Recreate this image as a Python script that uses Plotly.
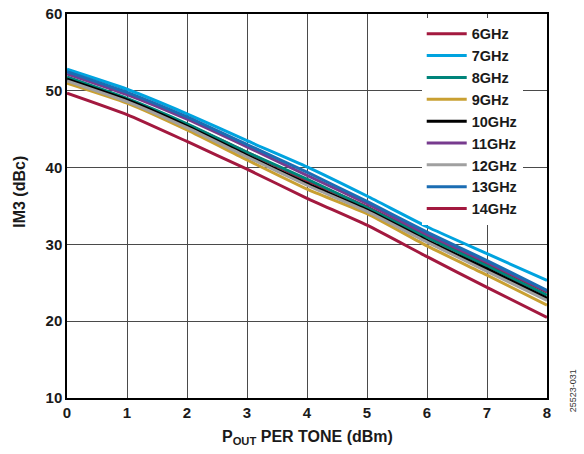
import plotly.graph_objects as go

pout = [0, 1, 2, 3, 4, 5, 6, 7, 8]

im3_6ghz = [51.4, 48.8, 45.6, 42.0, 38.3, 34.9, 31.0, 27.5, 23.8]
im3_7ghz = [52.8, 50.2, 47.0, 43.5, 40.1, 36.3, 32.3, 28.8, 25.3]
im3_8ghz = [51.8, 49.0, 45.7, 42.0, 38.5, 34.8, 30.9, 27.2, 23.4]
im3_9ghz = [51.0, 48.4, 44.9, 41.0, 37.2, 34.0, 29.8, 26.0, 22.1]
im3_10ghz = [51.5, 48.8, 45.4, 41.6, 37.9, 34.5, 30.5, 26.8, 23.0]
im3_11ghz = [52.2, 49.5, 46.3, 42.7, 39.0, 35.3, 31.3, 27.7, 23.9]
im3_12ghz = [51.3, 48.6, 45.2, 41.4, 37.7, 34.3, 30.3, 26.5, 22.7]
im3_13ghz = [52.5, 49.8, 46.6, 43.0, 39.4, 35.6, 31.6, 27.9, 24.0]
im3_14ghz = [49.7, 46.9, 43.4, 39.8, 36.0, 32.5, 28.4, 24.4, 20.5]

names = ["6GHz", "7GHz", "8GHz", "9GHz", "10GHz", "11GHz", "12GHz", "13GHz", "14GHz"]
series = [im3_6ghz, im3_7ghz, im3_8ghz, im3_9ghz, im3_10ghz, im3_11ghz, im3_12ghz, im3_13ghz, im3_14ghz]
colors = ["#A3193F", "#00A3DF", "#00847A", "#C9A032", "#000000", "#773B8E", "#A0A0A0", "#1B6DB3", "#A3193F"]

x_ticks = [0, 1, 2, 3, 4, 5, 6, 7, 8]
y_ticks = [10, 20, 30, 40, 50, 60]
x_title = "P<sub>OUT</sub> PER TONE (dBm)"
y_title = "IM3 (dBc)"
fig_id = "25523-031"

fig = go.Figure()
for name, ys, c in zip(names, series, colors):
    fig.add_trace(go.Scatter(x=pout, y=ys, name=name, mode="lines",
                             line=dict(color=c, width=3, shape="spline", smoothing=0.5)))

font_fam = "Liberation Sans, Arial, sans-serif"
fig.update_layout(
    width=584, height=454,
    margin=dict(l=67, r=37, t=14, b=56, autoexpand=False),
    paper_bgcolor="white", plot_bgcolor="white",
    font=dict(family=font_fam, size=15, color="#1a1a1a", weight="bold"),
    showlegend=True,
    legend=dict(x=0.739, y=0.99, xanchor="left", yanchor="top",
                bgcolor="white", borderwidth=0,
                font=dict(size=14.5, family=font_fam, weight="bold", color="#1a1a1a"),
                itemwidth=40, tracegroupgap=0),
    xaxis=dict(range=[0, 8], tickvals=x_ticks, ticks="", showgrid=True,
               gridcolor="#4a4a4a", gridwidth=1, zeroline=False,
               showline=True, linecolor="black", linewidth=1.5, mirror=True,
               ticklabeloverflow="allow",
               tickfont=dict(size=15, weight="bold")),
    yaxis=dict(range=[10, 60], tickvals=y_ticks, ticks="", showgrid=True,
               gridcolor="#4a4a4a", gridwidth=1, zeroline=False,
               showline=True, linecolor="black", linewidth=1.5, mirror=True,
               ticklabeloverflow="allow",
               tickfont=dict(size=15, weight="bold")),
)

fig.add_annotation(text=x_title, xref="paper", yref="paper",
                   x=0.5, y=-0.102, xanchor="center", yanchor="middle",
                   showarrow=False, font=dict(size=16, family=font_fam, weight="bold"))
fig.add_annotation(text=y_title, xref="paper", yref="paper",
                   x=-0.098, y=0.537, xanchor="center", yanchor="middle",
                   textangle=-90, showarrow=False,
                   font=dict(size=16, family=font_fam, weight="bold"))
fig.add_annotation(text=fig_id, xref="paper", yref="paper",
                   x=1.054, y=0.02, xanchor="center", yanchor="middle",
                   textangle=-90, showarrow=False,
                   font=dict(size=9, family=font_fam, color="#333333", weight="normal"))

fig.write_html("out.html",
               config={"displayModeBar": False},
               post_script="document.body.style.margin='0';document.body.style.overflow='hidden';")
